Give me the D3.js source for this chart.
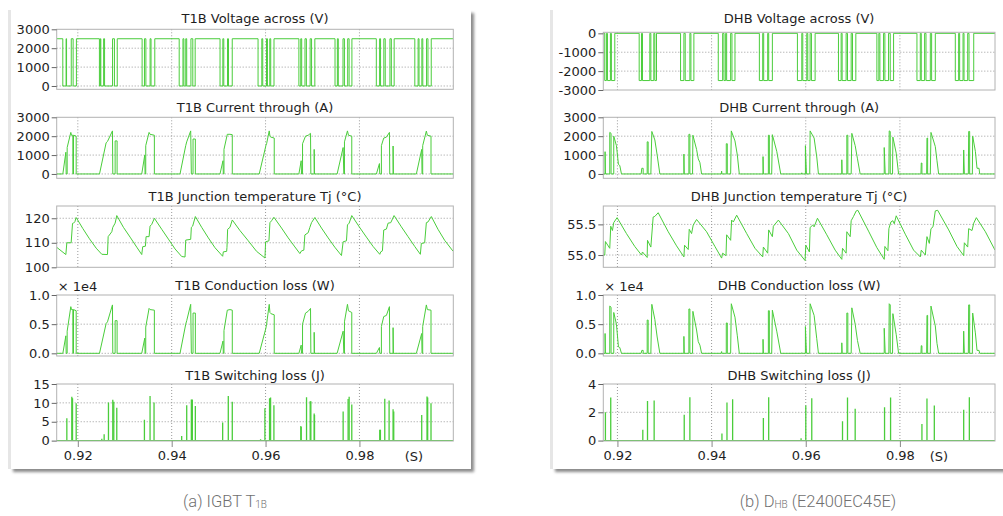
<!DOCTYPE html>
<html><head><meta charset="utf-8">
<script src="https://cdn.jsdelivr.net/npm/d3@7"></script>
<style>body{margin:0;background:#fff}</style>
</head><body>
<script>
// ================= DATA =================
// time axis (ms)
const timeTicksMs = [920, 940, 960, 980];

// ---- (a) IGBT T1B ----
const t1bVoltageLevels = [2500, 0];          // blocking, conducting
const t1bVoltageLowMs = [[916.8,917.5],[917.6,918.6],[919.0,919.7],[924.6,924.8],[924.9,925.5],[925.7,927.4],[927.8,928.4],[933.7,934.2],[934.5,935.4],[935.6,936.4],[941.6,942.4],[942.6,943.0],[943.2,944.1],[944.5,945.0],[950.3,950.9],[951.1,951.9],[952.1,952.9],[958.4,959.2],[959.4,960.2],[960.4,960.9],[961.1,961.8],[967.1,967.5],[967.7,968.4],[968.7,969.5],[969.8,970.5],[974.8,975.3],[975.5,976.5],[976.8,977.5],[977.8,978.4],[983.6,984.3],[984.5,985.2],[985.5,986.5],[986.8,987.4],[991.8,992.5],[992.7,993.3],[993.5,994.3],[994.6,995.3]];
const t1bCurrentA = [[915.5,0],
[916.81,0],[917.45,1150],[917.52,0],[917.73,0],[917.73,1400],[918.51,2200],[918.65,2050],[918.94,2050],[918.94,0],[919.08,0],[919.08,2050],[919.65,2000],[919.65,0],
[924.62,0],[926.03,1650],[926.32,1720],[927.38,2280],[927.45,0],[927.95,0],[927.95,1750],[928.37,1750],[928.37,0],
[933.62,0],[934.26,1000],[934.33,0],[934.47,0],[934.47,1500],[935.18,2200],[935.39,2100],[936.31,2050],[936.31,0],
[941.78,0],[942.99,1500],[943.20,1700],[944.05,2280],[944.19,0],[944.55,0],[944.55,1850],[945.04,1850],[945.04,0],
[950.29,0],[950.93,700],[951.00,0],[951.14,0],[951.14,1300],[951.85,2100],[952.42,2100],[952.91,2080],[952.91,0],
[958.65,0],[960.07,1500],[960.22,1600],[960.78,2280],[960.93,2000],[961.14,1950],[961.85,1900],[961.85,0],
[967.10,0],[967.59,700],[967.66,0],[967.88,0],[967.88,1600],[968.51,2000],[969.08,2050],[969.58,2150],[969.65,0],[970.36,0],[970.36,1300],[970.43,0],
[975.25,0],[976.53,1400],[976.67,0],[976.81,0],[976.81,1700],[977.45,2280],[977.66,2050],[978.37,2000],[978.37,0],
[983.62,0],[984.26,550],[984.33,0],[984.68,0],[984.68,1500],[985.18,1900],[985.75,1950],[986.39,2200],[986.46,0],[987.17,0],[987.17,1480],[987.24,0],
[992.13,0],[993.27,1300],[993.34,0],[993.48,0],[993.48,1500],[994.26,2270],[994.47,2050],[995.25,2000],[995.25,0],
[1000,0]];
const t1bTempC = [[915.54,108.1],[917.45,105.2],[917.66,110.0],[918.58,110.0],[918.87,117.9],[919.08,118.0],[919.37,118.6],[919.65,120.3],
[921.07,115.8],[922.49,111.6],[923.91,107.8],[925.11,105.3],[926.32,105.2],
[926.46,112.5],[927.24,114.5],[927.45,116.3],[927.95,118.0],[928.30,121.1],
[929.72,116.3],[931.14,112.3],[932.56,108.2],[933.62,105.2],
[933.83,108.4],[934.40,108.6],[934.54,112.5],[935.18,112.5],[935.39,116.8],[935.75,117.5],[936.31,120.0],
[937.88,115.5],[939.30,111.5],[940.71,107.5],[942.13,104.4],[942.84,104.2],
[942.99,111.1],[944.05,111.4],[944.19,116.3],[944.47,116.8],[945.04,120.7],
[946.39,116.3],[947.81,112.0],[949.22,108.0],[950.86,104.5],
[951.00,106.3],[951.71,106.5],[951.78,108.1],[951.92,115.5],[952.42,116.3],[952.91,119.3],
[954.54,115.0],[956.32,110.8],[958.09,106.5],[959.87,103.8],
[960.01,110.4],[960.72,110.8],[960.93,118.2],[961.28,119.0],[961.78,120.4],
[963.41,116.0],[964.83,112.0],[966.25,108.3],[967.31,105.6],
[967.66,106.7],[968.16,107.0],[968.37,113.2],[969.08,114.1],[969.44,116.3],[969.79,118.2],[970.50,120.3],
[971.92,116.0],[973.34,112.0],[974.75,108.2],[976.17,104.8],
[976.53,110.4],[977.24,110.8],[977.45,117.3],[977.81,118.0],[978.37,121.1],
[980.07,116.2],[981.49,112.3],[982.91,108.5],[984.33,105.3],
[984.54,106.3],[984.90,106.7],[985.18,115.2],[985.75,115.6],[986.10,118.0],[986.67,118.2],[987.38,121.1],
[988.94,116.5],[990.36,112.5],[991.78,108.5],[992.98,105.3],
[993.19,109.7],[993.90,110.0],[994.26,118.2],[994.61,118.5],[995.32,120.7],
[996.74,115.5],[998.16,111.0],[999.93,106.6]];
const t1bCondLossW = [[915.5,0],
[916.81,0],[917.45,3000],[917.52,0],[917.73,0],[917.73,3800],[918.51,8000],[918.65,7500],[918.94,7500],[918.94,0],[919.08,0],[919.08,7500],[919.65,7300],[919.65,0],
[924.62,0],[926.03,5100],[926.32,5400],[927.38,8300],[927.45,0],[927.95,0],[927.95,5600],[928.37,5600],[928.37,0],
[933.62,0],[934.26,2600],[934.33,0],[934.47,0],[934.47,4500],[935.18,7700],[935.39,7500],[936.31,7400],[936.31,0],
[941.78,0],[942.99,5000],[943.20,5600],[944.05,8400],[944.19,0],[944.55,0],[944.55,6900],[945.04,6900],[945.04,0],
[950.29,0],[950.93,2100],[951.00,0],[951.14,0],[951.14,3900],[951.85,7400],[952.42,7500],[952.91,7400],[952.91,0],
[958.65,0],[960.07,4300],[960.22,5000],[960.78,8400],[960.93,7000],[961.14,6800],[961.85,6600],[961.85,0],
[967.10,0],[967.59,1400],[967.66,0],[967.88,0],[967.88,5000],[968.51,6900],[969.08,7200],[969.58,7700],[969.65,0],[970.36,0],[970.36,3600],[970.43,0],
[975.25,0],[976.53,3800],[976.67,0],[976.81,0],[976.81,5400],[977.45,8400],[977.66,7300],[978.37,7000],[978.37,0],
[983.62,0],[984.26,1000],[984.33,0],[984.68,0],[984.68,4600],[985.18,6300],[985.75,6500],[986.39,8000],[986.46,0],[987.17,0],[987.17,4400],[987.24,0],
[992.13,0],[993.27,3400],[993.34,0],[993.48,0],[993.48,4600],[994.26,8300],[994.47,7500],[995.25,7400],[995.25,0],
[1000,0]];
const t1bSwitchLossJ = [[917.66,5.9],[918.72,11.6],[918.87,11.2],[919.65,9.9],[925.11,0.5],[925.61,1.7],[926.53,10.1],[927.45,10.8],[927.66,10.3],[928.30,8.7],[934.19,5.5],[935.39,11.8],[936.24,10.1],[942.13,1.2],[943.20,9.4],[944.19,10.9],[944.40,10.9],[945.04,9.2],[950.86,4.8],[952.06,11.8],[952.91,10.3],[958.94,0.35],[959.86,8.6],[960.85,11.2],[961.07,11.4],[961.78,9.4],[967.52,3.9],[967.59,3.6],[968.73,11.5],[969.51,10.4],[969.65,10.4],[970.36,7.2],[970.43,6.8],[976.53,7.7],[977.59,11.0],[977.81,11.6],[978.37,9.6],[984.33,2.9],[984.47,2.9],[985.40,11.1],[986.32,10.6],[987.17,8.3],[987.31,7.7],[993.27,6.8],[994.40,11.7],[994.54,11.4],[995.25,9.9]];

// ---- (b) Diode DHB ----
const dhbVoltageLevels = [0, -2500];        // conducting / idle, reverse blocking
const dhbVoltageBlockMs = [[917.31,917.66],[917.88,918.51],[918.72,919.44],[924.62,925.11],[925.32,926.88],[927.10,927.73],[927.95,928.30],[933.41,934.12],[934.40,935.39],[935.61,936.24],[941.42,942.35],[942.63,942.99],[943.20,944.05],[944.33,944.97],[950.15,950.86],[951.07,951.92],[952.13,952.91],[958.23,959.16],[959.37,960.22],[960.43,960.93],[961.21,961.99],[966.95,967.52],[967.73,968.58],[968.87,969.65],[969.93,970.64],[975.11,975.53],[975.75,976.53],[976.81,977.59],[977.95,978.66],[983.62,984.33],[984.54,985.25],[985.54,986.46],[986.74,987.52],[991.77,992.48],[992.69,993.41],[993.62,994.40],[994.68,995.68]];
const dhbCurrentA = [[917.0,0],
[917.38,0],[917.38,1180],[917.45,0],[918.37,0],[918.37,2200],[918.65,2150],[918.65,0],[919.22,0],[919.22,2000],[919.79,1500],[920.22,500],[920.50,450],[920.86,0],
[925.04,0],[925.18,300],[925.47,300],[925.47,0],[926.32,0],[926.32,1700],[926.53,1700],[926.53,0],[927.10,0],[927.31,2250],[927.95,1800],[928.44,1000],[929.01,0],
[934.12,0],[934.12,1050],[934.19,0],[935.18,0],[935.18,2100],[935.39,2100],[935.39,0],[935.96,0],[936.03,2050],[936.81,1300],[937.17,800],[937.52,600],[937.88,0],
[942.06,0],[942.13,150],[942.20,0],[943.12,0],[943.12,1600],[943.34,1600],[943.34,0],[944.05,0],[944.19,2280],[944.97,1750],[945.47,1000],[945.89,0],
[950.93,0],[950.93,920],[951.00,0],[952.06,0],[952.06,2050],[952.27,2050],[952.27,0],[952.77,0],[952.91,2080],[953.84,1200],[954.69,0],
[959.08,0],[959.16,60],[959.23,0],[959.93,0],[959.93,1500],[960.15,0],[960.85,0],[960.93,2280],[961.78,1900],[962.34,900],[962.70,0],
[967.66,0],[967.66,750],[967.73,0],[968.73,0],[968.73,2050],[968.94,2050],[968.94,0],[969.65,0],[969.79,2150],[970.50,1500],[970.99,800],[971.56,0],
[976.67,0],[976.67,1400],[976.88,0],[977.66,0],[977.73,2280],[977.95,2250],[977.95,0],[978.44,0],[978.51,1950],[979.22,1100],[979.72,0],
[984.47,0],[984.54,580],[984.68,580],[984.68,0],[985.68,0],[985.75,1900],[985.89,1900],[985.89,0],[986.46,0],[986.60,2200],[987.52,1450],[987.88,700],[988.23,0],
[993.48,0],[993.55,1270],[993.69,0],[994.54,0],[994.61,2250],[994.82,2250],[994.82,0],[995.39,0],[995.46,2000],[996.03,1200],[996.38,300],[996.81,300],[996.95,0],
[1000.2,0]];
const dhbTempC = [[917.0,55.0],[917.31,55.0],[917.45,55.22],[918.37,55.11],[918.58,55.47],[918.94,55.40],[919.22,55.53],[919.93,55.61],
[921.92,55.35],[923.69,55.14],[925.11,55.0],
[925.32,55.05],[926.32,54.96],[926.39,55.24],[927.10,55.13],[927.59,55.62],[927.95,55.63],[928.66,55.69],
[930.79,55.38],[932.56,55.15],[934.12,54.97],
[934.26,55.16],[935.04,55.09],[935.25,55.42],[935.75,55.35],[936.10,55.49],[936.81,55.58],
[938.94,55.38],[940.71,55.14],[942.13,54.95],
[942.35,55.03],[943.06,54.99],[943.20,55.33],[944.05,55.24],[944.26,55.57],[944.62,55.54],[945.33,55.65],
[947.46,55.35],[949.22,55.11],[950.86,54.97],
[951.00,55.13],[951.92,55.03],[952.13,55.41],[952.91,55.30],[953.12,55.47],[954.19,55.57],
[956.32,55.35],[958.09,55.08],[959.86,54.91],
[960.01,55.16],[960.78,55.05],[960.93,55.45],[961.50,55.49],[961.78,55.46],[962.49,55.60],
[964.47,55.33],[966.25,55.08],[967.66,54.93],
[967.81,55.11],[968.58,55.03],[968.73,55.38],[969.44,55.30],[969.65,55.56],[970.15,55.63],[970.72,55.72],[971.07,55.73],
[973.34,55.39],[975.11,55.12],[976.67,54.93],
[976.81,55.14],[977.45,55.07],[977.66,55.43],[978.09,55.54],[978.51,55.56],[978.80,55.51],[979.22,55.64],
[981.14,55.34],[982.91,55.08],[984.33,54.97],
[984.54,55.08],[985.40,55.0],[985.75,55.30],[986.25,55.19],[986.60,55.43],[987.03,55.46],[987.52,55.72],[988.02,55.73],
[990.36,55.41],[992.13,55.14],[993.55,54.99],
[993.69,55.2],[994.40,55.13],[994.61,55.43],[995.32,55.40],[995.68,55.52],[996.24,55.61],
[998.16,55.38],[1000.2,55.08]];
const dhbCondLossW = [[917.0,0],
[917.38,0],[917.38,3400],[917.45,0],[918.37,0],[918.37,8100],[918.65,7900],[918.65,0],[919.22,0],[919.22,7000],[919.79,5000],[920.22,1100],[920.50,1000],[920.86,0],
[925.04,0],[925.18,500],[925.47,500],[925.47,0],[926.32,0],[926.32,5700],[926.53,5700],[926.53,0],[927.10,0],[927.31,8400],[927.95,5800],[928.44,2800],[929.01,0],
[934.12,0],[934.12,2900],[934.19,0],[935.18,0],[935.18,7600],[935.39,7600],[935.39,0],[935.96,0],[936.03,7200],[936.81,4000],[937.17,2000],[937.52,1400],[937.88,0],
[942.06,0],[942.13,300],[942.20,0],[943.12,0],[943.12,5200],[943.34,5200],[943.34,0],[944.05,0],[944.19,8500],[944.97,6200],[945.47,3000],[945.89,0],
[950.93,0],[950.93,2400],[951.00,0],[952.06,0],[952.06,7300],[952.27,7300],[952.27,0],[952.77,0],[952.91,7400],[953.84,3800],[954.69,0],
[959.08,0],[959.16,100],[959.23,0],[959.93,0],[959.93,4600],[960.15,0],[960.85,0],[960.93,8500],[961.78,6500],[962.34,2500],[962.70,0],
[967.66,0],[967.66,1800],[967.73,0],[968.73,0],[968.73,6900],[968.94,6900],[968.94,0],[969.65,0],[969.79,7800],[970.50,5000],[970.99,2200],[971.56,0],
[976.67,0],[976.67,4300],[976.88,0],[977.66,0],[977.73,8500],[977.95,8300],[977.95,0],[978.44,0],[978.51,6800],[979.22,3200],[979.72,0],
[984.47,0],[984.54,1300],[984.68,1300],[984.68,0],[985.68,0],[985.75,6500],[985.89,6500],[985.89,0],[986.46,0],[986.60,8100],[987.52,4700],[987.88,1700],[988.23,0],
[993.48,0],[993.55,3800],[993.69,0],[994.54,0],[994.61,8300],[994.82,8300],[994.82,0],[995.39,0],[995.46,6900],[996.03,3500],[996.38,500],[996.81,500],[996.95,0],
[1000.2,0]];
const dhbSwitchLossJ = [[917.45,2.0],[918.58,3.04],[925.39,0.77],[926.39,2.8],[927.80,2.83],[934.19,1.82],[935.39,3.06],[942.20,0.5],[943.27,2.69],[944.47,2.92],[951.00,1.6],[952.13,3.06],[959.01,0.16],[960.01,2.48],[961.28,3.0],[967.81,1.36],[968.87,3.04],[970.50,2.25],[976.74,2.36],[978.02,3.04],[984.68,1.17],[985.75,2.97],[987.31,2.48],[993.55,2.18],[994.75,3.06]];

// titles & ticks
const t1bTitles = ['T1B Voltage across (V)','T1B Current through (A)','T1B Junction temperature Tj (°C)','T1B Conduction loss (W)','T1B Switching loss (J)'];
const dhbTitles = ['DHB Voltage across (V)','DHB Current through (A)','DHB Junction temperature Tj (°C)','DHB Conduction loss (W)','DHB Switching loss (J)'];
const t1bYTicks = [[0,1000,2000,3000],[0,1000,2000,3000],[100,110,120],[0,5000,10000],[0,5,10,15]];
const dhbYTicks = [[0,-1000,-2000,-3000],[0,1000,2000,3000],[55.0,55.5],[0,5000,10000],[0,2,4]];

// ================= LAYOUT =================
const FONT = '"DejaVu Sans", Verdana, sans-serif';
const GREEN = '#4acd3b';
const rowTitleY = [23, 111.7, 200.5, 289.7, 379.5];
const panels = [
  { frame:{x:10,y:10,w:461,h:459}, plotX:[56.7,453.3], domain:[915.5,1000.0], sX:414,
    caption:{x:225, main:'(a) IGBT T', sub:'1B', rest:''},
    subs:[
      {kind:'step', data:t1bVoltageLowMs, levels:t1bVoltageLevels, yDomain:[-175,3000], top:29.3, bottom:89.3, ticks:t1bYTicks[0], fmt:d=>String(d)},
      {kind:'line', data:t1bCurrentA, yDomain:[-230,3000], top:117.3, bottom:178.3, ticks:t1bYTicks[1], fmt:d=>String(d)},
      {kind:'line', data:t1bTempC, yDomain:[100,125], top:206, bottom:267.3, ticks:t1bYTicks[2], fmt:d=>String(d)},
      {kind:'line', data:t1bCondLossW, yDomain:[-460,10000], top:295, bottom:356, ticks:t1bYTicks[3], fmt:d=>(d/1e4).toFixed(1), sci:true},
      {kind:'spike', data:t1bSwitchLossJ, yDomain:[-0.1,15], top:384, bottom:441, ticks:t1bYTicks[4], fmt:d=>String(d), xAxis:true}
    ], titles:t1bTitles },
  { frame:{x:552,y:10,w:470,h:459}, plotX:[603.3,995], domain:[917.0,1000.2], sX:939,
    caption:{x:818, main:'(b) D', sub:'HB', rest:' (E2400EC45E)'},
    subs:[
      {kind:'step', data:dhbVoltageBlockMs, levels:dhbVoltageLevels, yDomain:[-3000,55], top:32.3, bottom:90, ticks:dhbYTicks[0], fmt:d=>String(d)},
      {kind:'line', data:dhbCurrentA, yDomain:[-230,3000], top:117.3, bottom:178.3, ticks:dhbYTicks[1], fmt:d=>String(d)},
      {kind:'line', data:dhbTempC, yDomain:[54.8,55.8], top:206, bottom:267.3, ticks:dhbYTicks[2], fmt:d=>d.toFixed(1)},
      {kind:'line', data:dhbCondLossW, yDomain:[-460,10000], top:295, bottom:356, ticks:dhbYTicks[3], fmt:d=>(d/1e4).toFixed(1), sci:true},
      {kind:'spike', data:dhbSwitchLossJ, yDomain:[-0.03,4], top:384, bottom:441, ticks:dhbYTicks[4], fmt:d=>String(d), xAxis:true}
    ], titles:dhbTitles }
];

// ================= DRAW =================
const svg = d3.select('body').append('svg').attr('width',1003).attr('height',516)
  .style('font-family',FONT);
const defs = svg.append('defs');
defs.append('filter').attr('id','shadow').attr('x','-5%').attr('y','-5%').attr('width','115%').attr('height','115%')
  .append('feGaussianBlur').attr('stdDeviation',1.6);

panels.forEach((p,pi)=>{
  const g = svg.append('g');
  const f = p.frame;
  g.append('rect').attr('x',f.x+3).attr('y',f.y+3).attr('width',f.w).attr('height',f.h)
    .attr('fill','#8a8a8a').attr('filter','url(#shadow)');
  g.append('rect').attr('x',f.x).attr('y',f.y).attr('width',f.w).attr('height',f.h).attr('fill','#fff');
  g.append('rect').attr('x',f.x-2).attr('y',f.y).attr('width',3).attr('height',f.h).attr('fill','#e6e6e6');

  const x = d3.scaleLinear().domain(p.domain).range(p.plotX);
  const pw = p.plotX[1]-p.plotX[0];

  p.subs.forEach((s,si)=>{
    const y = d3.scaleLinear().domain(s.yDomain).range([s.bottom,s.top]);
    const sg = g.append('g');
    const clipId = `clip${pi}_${si}`;
    defs.append('clipPath').attr('id',clipId).append('rect')
      .attr('x',p.plotX[0]).attr('y',s.top).attr('width',pw).attr('height',s.bottom-s.top);

    // grid
    const grid = sg.append('g').attr('stroke','#9a9a9a').attr('stroke-width',1).attr('stroke-dasharray','1,2');
    timeTicksMs.forEach(t=>{
      grid.append('line').attr('x1',x(t)).attr('x2',x(t)).attr('y1',s.top).attr('y2',s.bottom);
    });
    s.ticks.forEach(v=>{
      const yy = y(v);
      if (yy > s.top+1.5 && yy < s.bottom-1.5)
        grid.append('line').attr('x1',p.plotX[0]).attr('x2',p.plotX[1]).attr('y1',yy).attr('y2',yy);
    });

    // data
    const dg = sg.append('g').attr('clip-path',`url(#${clipId})`);
    const line = d3.line().x(d=>x(d[0])).y(d=>y(d[1]));
    if (s.kind==='step'){
      const [hi,lo] = s.levels;
      const pts = [[p.domain[0],hi]];
      s.data.forEach(([a,b])=>{ pts.push([a,hi],[a,lo],[b,lo],[b,hi]); });
      pts.push([p.domain[1],hi]);
      dg.append('path').attr('d',line(pts)).attr('fill','none').attr('stroke',GREEN).attr('stroke-width',1);
    } else if (s.kind==='line'){
      dg.append('path').attr('d',line(s.data)).attr('fill','none').attr('stroke',GREEN).attr('stroke-width',1);
    } else {
      dg.append('line').attr('x1',x(p.domain[0])).attr('x2',x(p.domain[1])).attr('y1',y(0)).attr('y2',y(0))
        .attr('stroke',GREEN).attr('stroke-width',1.2);
      dg.selectAll('line.spk').data(s.data).enter().append('line').attr('class','spk')
        .attr('x1',d=>x(d[0])).attr('x2',d=>x(d[0])).attr('y1',y(0)).attr('y2',d=>y(d[1]))
        .attr('stroke',GREEN).attr('stroke-width',1.3);
    }

    // frame
    sg.append('rect').attr('x',p.plotX[0]).attr('y',s.top).attr('width',pw).attr('height',s.bottom-s.top)
      .attr('fill','none').attr('stroke','#b2b2b2').attr('stroke-width',1);

    // y axis
    const ag = sg.append('g').attr('transform',`translate(${p.plotX[0]},0)`)
      .call(d3.axisLeft(y).tickValues(s.ticks).tickSize(5).tickPadding(2).tickFormat(s.fmt));
    ag.attr('font-family',FONT).attr('font-size',13);
    ag.select('.domain').remove();
    ag.selectAll('.tick line').attr('stroke','#666');
    ag.selectAll('.tick text').attr('fill','#1e1e1e');

    // title
    sg.append('text').attr('x',(p.plotX[0]+p.plotX[1])/2).attr('y',rowTitleY[si])
      .attr('text-anchor','middle').attr('font-size',13).attr('fill','#1e1e1e').text(p.titles[si]);

    if (s.sci){
      sg.append('text').attr('x',p.plotX[0]+1).attr('y',s.top-4).attr('font-size',13).attr('fill','#1e1e1e').text('× 1e4');
    }
    if (s.xAxis){
      const xg = sg.append('g').attr('transform',`translate(0,${s.bottom})`)
        .call(d3.axisBottom(x).tickValues(timeTicksMs).tickSize(6).tickPadding(4).tickFormat(d=>(d/1000).toFixed(2)));
      xg.attr('font-family',FONT).attr('font-size',13);
      xg.select('.domain').remove();
      xg.selectAll('.tick line').attr('stroke','#888');
      xg.selectAll('.tick text').attr('fill','#1e1e1e');
      sg.append('text').attr('x',p.sX).attr('y',s.bottom+20).attr('text-anchor','middle')
        .attr('font-size',13).attr('fill','#1e1e1e').text('(S)');
    }
  });

  // caption
  const cap = svg.append('text').attr('x',p.caption.x).attr('y',507).attr('text-anchor','middle')
    .attr('font-family','Roboto, "Open Sans", sans-serif').attr('font-weight',300).attr('font-size',16.5)
    .attr('fill','#707070');
  cap.append('tspan').text(p.caption.main);
  cap.append('tspan').attr('font-size',10).attr('dy',1).text(p.caption.sub);
  if (p.caption.rest) cap.append('tspan').attr('dy',-1).text(p.caption.rest);
});
</script>
</body></html>
